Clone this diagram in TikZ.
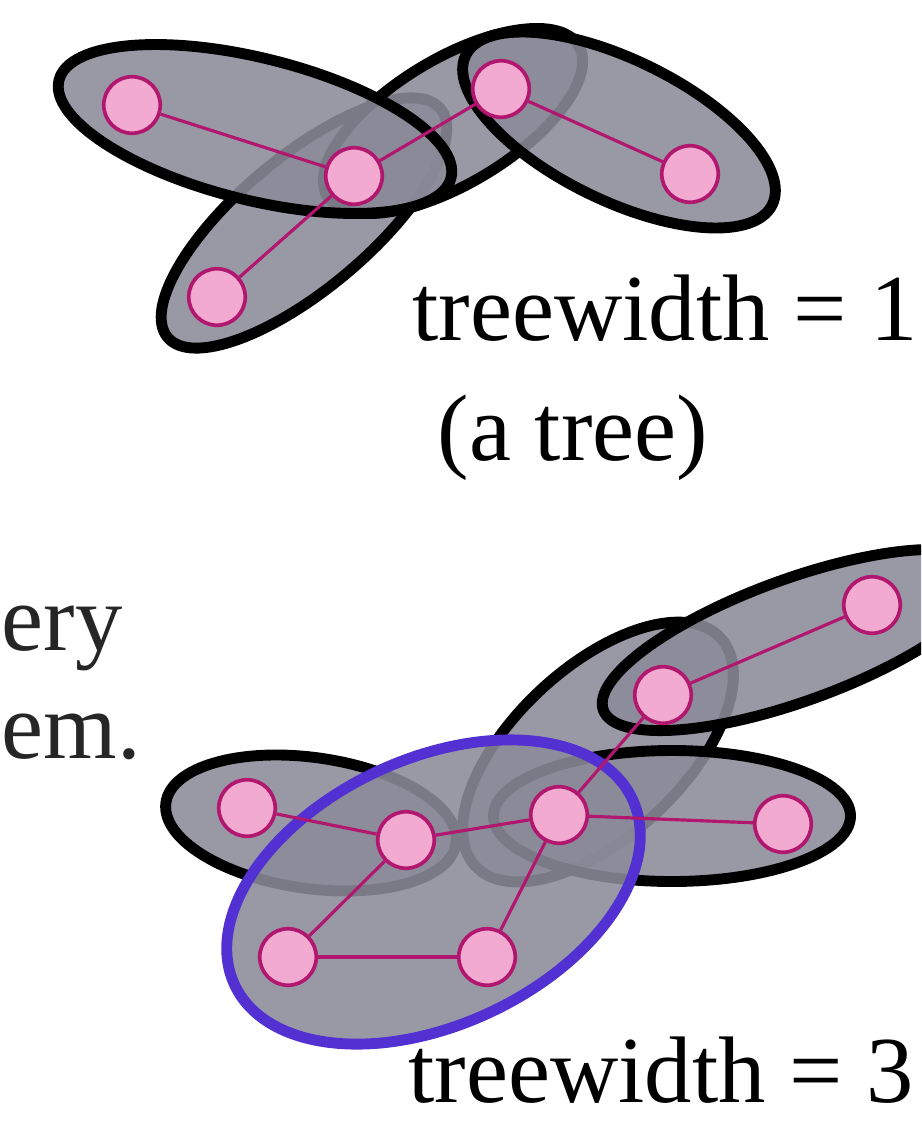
\documentclass[tikz,border=0pt]{standalone}
\usepackage{fontspec}
\setmainfont{Liberation Serif}
\definecolor{bagfill}{RGB}{139,138,153}
\definecolor{vpink}{HTML}{F2AAD1}
\definecolor{vedge}{HTML}{B2176F}
\definecolor{rootbag}{HTML}{5230D2}
\definecolor{slidetext}{HTML}{262626}

\begin{document}
\begin{tikzpicture}[bag/.style={fill=bagfill, fill opacity=0.88, draw=black, line width=3.1pt},
  vtx/.style={circle, fill=vpink, draw=vedge, line width=1.05pt, minimum size=0.565cm, inner sep=0pt},
  link/.style={draw=vedge, line width=0.9pt},
  big/.style={font=\fontsize{26.9}{32}\selectfont, inner sep=0pt}]
  \useasboundingbox (0,0) rectangle (9.21,-11.26);
  \clip (0,0) rectangle (9.21,-11.26);

  % bags of the tree
  \draw[bag, shift={(3.04,-2.23)}, rotate=40] (0,0) ellipse (1.78 and 0.66);
  \draw[bag, shift={(4.53,-1.21)}, rotate=31] (0,0) ellipse (1.465 and 0.625);
  \draw[bag, shift={(2.55,-1.29)}, rotate=-14] (0,0) ellipse (2.02 and 0.71);
  \draw[bag, shift={(6.19,-1.30)}, rotate=-26] (0,0) ellipse (1.705 and 0.705);

  \foreach \n/\x/\y in {a/1.32/-1.05, b/3.54/-1.76, c/5.01/-0.89, d/6.90/-1.74, e/2.17/-2.97}
    \node[vtx] (\n) at (\x,\y) {};
  \foreach \u/\v in {a/b, b/c, c/d, b/e}
    \draw[link] (\u) -- (\v);

  \node[big, anchor=base west] (tw1) at (4.12,-3.40) {treewidth = 1};
  \node[big, anchor=base west] (tw1b) at (4.37,-4.60) {(a tree)};

  \node[big, text=slidetext, anchor=base west] (cut1) at (0.01,-6.50) {ery};
  \node[big, text=slidetext, anchor=base west] (cut2) at (0.01,-7.58) {em.};

  % bags of the second graph
  \draw[bag, shift={(3.11,-8.23)}, rotate=-8] (0,0) ellipse (1.465 and 0.655);
  \draw[bag, shift={(5.98,-7.52)}, rotate=43] (0,0) ellipse (1.675 and 0.845);
  \draw[bag, shift={(6.72,-8.16)}] (0,0) ellipse (1.785 and 0.655);
  \draw[bag, shift={(7.96,-6.40)}, rotate=20] (0,0) ellipse (2.05 and 0.61);
  \draw[bag, draw=rootbag, shift={(4.335,-8.92)}, rotate=25] (0,0) ellipse (2.195 and 1.33);

  \foreach \n/\x/\y in {f/2.47/-8.08, g/4.06/-8.40, h/5.59/-8.15, i/6.63/-6.95, j/8.72/-6.05, k/7.83/-8.24, l/2.88/-9.57, m/4.87/-9.57}
    \node[vtx] (\n) at (\x,\y) {};
  \foreach \u/\v in {f/g, g/h, h/i, i/j, h/k, g/l, l/m, m/h}
    \draw[link] (\u) -- (\v);

  \node[big, anchor=base west] (tw3) at (4.08,-11.02) {treewidth = 3};
\end{tikzpicture}
\end{document}
